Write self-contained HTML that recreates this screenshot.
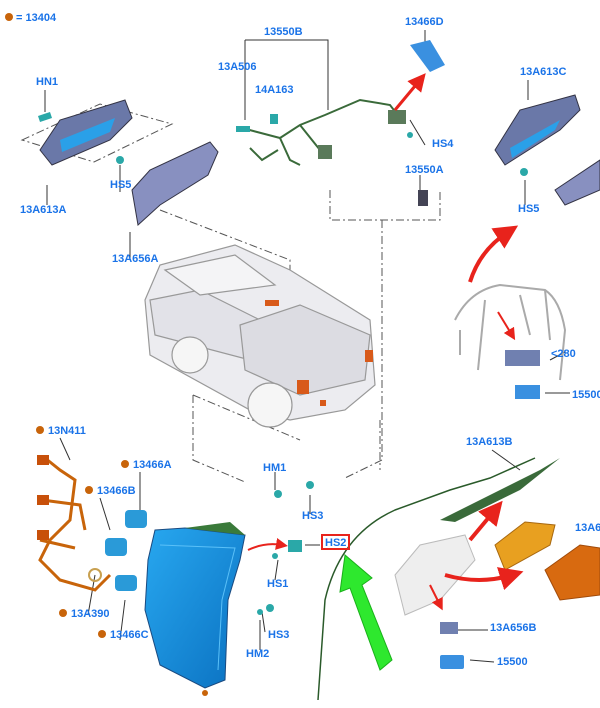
<!DOCTYPE html>
<html><head><meta charset="utf-8"><style>
body{margin:0;background:#fff;}
svg text{font-family:"Liberation Sans",sans-serif;font-weight:bold;font-size:11px;fill:#1a73e8;}
</style></head><body>
<svg width="600" height="703" viewBox="0 0 600 703" xmlns="http://www.w3.org/2000/svg">
<defs>
<marker id="ra" markerWidth="6" markerHeight="6" refX="3" refY="3" orient="auto"><path d="M0,0L6,3L0,6z" fill="#e8231c"/></marker>
<linearGradient id="bl" x1="0" x2="1" y1="0" y2="1"><stop offset="0" stop-color="#28a8f0"/><stop offset="1" stop-color="#0a70c0"/></linearGradient>
</defs>
<circle cx="9" cy="17" r="4" fill="#c8640a"/>
<text x="16" y="21">= 13404</text>

<g stroke="#555" stroke-width="1" stroke-dasharray="8,3,2,3" fill="none">
<path d="M22,140 L100,104 L172,124 L94,162 Z"/>
<path d="M160,210 L290,260 L290,300"/>
<path d="M330,190 L330,220 L440,220 L440,190"/>
<path d="M382,220 L382,460 L345,478"/>
<path d="M193,395 L193,460 L245,482"/>
<path d="M193,395 L300,440"/>
<path d="M380,420 L380,470"/>
</g>
<g stroke="#333" stroke-width="1" fill="none">
<path d="M245,40 L245,120 M245,40 L328,40 L328,110"/>
<path d="M45,90 L45,112 M120,192 L120,165 M47,205 L47,185 M130,258 L130,232"/>
<path d="M425,30 L425,45 M425,145 L410,120 M420,175 L420,195 M528,80 L528,100 M525,205 L525,180"/>
<path d="M60,438 L70,460 M140,472 L140,515 M100,498 L110,530 M88,615 L95,575 M120,640 L125,600"/>
<path d="M275,472 L275,490 M310,514 L310,495 M275,580 L278,560 M265,632 L262,612 M260,650 L260,620"/>
<path d="M492,450 L520,470 M320,545 L305,545 M488,630 L455,630 M494,662 L470,660 M565,352 L550,360 M570,393 L545,393"/>
</g>

<path d="M40,150 L60,120 L125,100 L132,118 L110,140 L52,165 Z" fill="#6a78a8" stroke="#334"/>
<path d="M60,140 L115,118 L110,132 L62,152 Z" fill="#2aa0e8"/>
<path d="M38,116 l12,-4 l2,6 l-12,4z" fill="#2aa8a8"/>
<circle cx="120" cy="160" r="4" fill="#2aa8a8"/>
<path d="M132,190 L150,170 L210,142 L218,152 L208,175 L160,205 L138,225 Z" fill="#8890c0" stroke="#334"/>
<path d="M242,128 L280,138 L300,125 L325,115 L360,100 L390,105 L400,118" stroke="#3a6a3a" stroke-width="2" fill="none"/>
<path d="M300,125 L320,150 L330,150 M250,148 L262,160 L278,150 M280,138 L290,160 L300,165" stroke="#3a6a3a" stroke-width="2" fill="none"/>
<rect x="236" y="126" width="14" height="6" fill="#2aa8a8"/>
<rect x="270" y="114" width="8" height="10" fill="#2aa8a8"/>
<rect x="318" y="145" width="14" height="14" fill="#5a7a5a"/>
<rect x="388" y="110" width="18" height="14" fill="#5a7a5a"/>
<path d="M410,45 L430,40 L445,65 L430,72 Z" fill="#3a90e0"/>
<path d="M395,110 L420,80" stroke="#e8231c" stroke-width="3" marker-end="url(#ra)"/>
<circle cx="410" cy="135" r="3" fill="#2aa8a8"/>
<rect x="418" y="190" width="10" height="16" fill="#445"/>
<path d="M495,150 L520,110 L575,95 L580,110 L560,130 L505,165 Z" fill="#6a78a8" stroke="#334"/>
<path d="M510,148 L560,120 L555,130 L512,158Z" fill="#2aa0e8"/>
<path d="M555,190 L600,160 L600,190 L565,205 Z" fill="#8890c0" stroke="#334"/>
<circle cx="524" cy="172" r="4" fill="#2aa8a8"/>
<path d="M470,282 Q480,250 508,232" stroke="#e8231c" stroke-width="4" fill="none" marker-end="url(#ra)"/>
<g stroke="#aaa" stroke-width="2" fill="none">
<path d="M455,320 Q470,290 500,285 L545,290 Q560,300 565,330 L560,380"/>
<path d="M460,330 L460,355 M485,300 L478,370 M520,295 L530,335 M545,290 L550,340"/>
</g>
<path d="M498,312 L512,335" stroke="#e8231c" stroke-width="2" marker-end="url(#ra)"/>
<rect x="505" y="350" width="35" height="16" fill="#7080b0"/>
<rect x="515" y="385" width="25" height="14" fill="#3a90e0"/>
<text x="551" y="357">&lt;280</text>
<text x="572" y="398">15500</text>

<!-- truck -->
<g stroke="#999" stroke-width="1.2" fill="#ececf0">
<path d="M145,300 L160,265 L235,245 L290,270 L370,320 L375,385 L345,410 L290,420 L250,410 L150,355 Z"/>
<path d="M150,300 L200,290 L260,320 L250,360 L155,335 Z" fill="#e2e2e8"/>
<path d="M240,325 L300,305 L370,335 L365,380 L300,395 L245,370 Z" fill="#dcdce2"/>
<path d="M165,270 L235,255 L275,285 L200,295 Z" fill="#f4f4f6"/>
<circle cx="270" cy="405" r="22" fill="#f6f6f6"/>
<circle cx="190" cy="355" r="18" fill="#f6f6f6"/>
</g>
<rect x="297" y="380" width="12" height="14" fill="#d85a1a"/>
<rect x="365" y="350" width="8" height="12" fill="#d85a1a"/>
<rect x="265" y="300" width="14" height="6" fill="#d85a1a"/>
<rect x="320" y="400" width="6" height="6" fill="#d85a1a"/>

<path d="M45,458 L60,470 L75,480 L70,520 L50,540 L40,560 L60,580 L95,590 L110,575 M42,500 L80,505 L85,530 M40,540 L75,548" stroke="#c8640a" stroke-width="3" fill="none"/>
<rect x="37" y="455" width="12" height="10" fill="#c8500a"/>
<rect x="37" y="495" width="12" height="10" fill="#c8500a"/>
<rect x="37" y="530" width="12" height="10" fill="#c8500a"/>
<circle cx="95" cy="575" r="6" fill="none" stroke="#c8a050" stroke-width="2"/>
<g fill="#2a9ad8">
<rect x="125" y="510" width="22" height="18" rx="4"/>
<rect x="105" y="538" width="22" height="18" rx="4"/>
<rect x="115" y="575" width="22" height="16" rx="4"/>
</g>
<path d="M155,530 L185,528 L245,535 L240,560 L228,600 L225,680 L205,688 L160,665 L145,610 L148,560 Z" fill="url(#bl)" stroke="#1a4a80"/>
<path d="M160,545 L235,548 L222,600 L218,670" stroke="#5ac0f8" fill="none"/>
<path d="M185,528 L230,522 L245,535" fill="#3a7a3a"/>
<circle cx="205" cy="693" r="3" fill="#c8640a"/>
<circle cx="278" cy="494" r="4" fill="#2aa8a8"/>
<circle cx="310" cy="485" r="4" fill="#2aa8a8"/>
<rect x="288" y="540" width="14" height="12" fill="#2aa8a8"/>
<circle cx="275" cy="556" r="3" fill="#2aa8a8"/>
<circle cx="260" cy="612" r="3" fill="#2aa8a8"/>
<circle cx="270" cy="608" r="4" fill="#2aa8a8"/>
<path d="M248,550 Q265,542 282,545" stroke="#e8231c" stroke-width="2" fill="none" marker-end="url(#ra)"/>

<path d="M318,700 L325,600 Q340,535 395,510 L450,490 L490,478 L535,458" stroke="#2a5a2a" stroke-width="1.5" fill="none"/>
<path d="M440,520 L540,470 L560,458 L520,490 L455,522 Z" fill="#3a6a3a"/>
<path d="M395,575 L420,545 L465,535 L475,560 L440,600 L405,615 Z" fill="#eee" stroke="#bbb"/>
<path d="M495,545 L525,522 L555,525 L550,545 L505,570 Z" fill="#e8a020" stroke="#a86810"/>
<path d="M545,570 L580,545 L600,548 L600,595 L560,600 Z" fill="#d86a10" stroke="#a04a0a"/>
<path d="M470,540 L495,510" stroke="#e8231c" stroke-width="4" marker-end="url(#ra)"/>
<path d="M445,575 Q480,585 512,575" stroke="#e8231c" stroke-width="4" fill="none" marker-end="url(#ra)"/>
<path d="M430,585 L440,605" stroke="#e8231c" stroke-width="2" marker-end="url(#ra)"/>
<rect x="440" y="622" width="18" height="12" fill="#7080b0"/>
<rect x="440" y="655" width="24" height="14" rx="2" fill="#3a90e0"/>
<path d="M380,670 L392,660 L362,585 L372,578 L345,555 L340,592 L350,588 Z" fill="#2ee82e" stroke="#1ab01a"/>

<text x="264" y="35">13550B</text>
<text x="405" y="25">13466D</text>
<text x="218" y="70">13A506</text>
<text x="255" y="93">14A163</text>
<text x="36" y="85">HN1</text>
<text x="520" y="75">13A613C</text>
<text x="432" y="147">HS4</text>
<text x="405" y="173">13550A</text>
<text x="110" y="188">HS5</text>
<text x="518" y="212">HS5</text>
<text x="20" y="213">13A613A</text>
<text x="112" y="262">13A656A</text>
<circle cx="40" cy="430" r="4" fill="#c8640a"/><text x="48" y="434">13N411</text>
<circle cx="125" cy="464" r="4" fill="#c8640a"/><text x="133" y="468">13466A</text>
<text x="263" y="471">HM1</text>
<text x="466" y="445">13A613B</text>
<circle cx="89" cy="490" r="4" fill="#c8640a"/><text x="97" y="494">13466B</text>
<text x="302" y="519">HS3</text>
<text x="575" y="531">13A6</text>
<rect x="322" y="535" width="27" height="14" fill="none" stroke="#e8231c" stroke-width="2"/>
<text x="325" y="546">HS2</text>
<text x="267" y="587">HS1</text>
<circle cx="63" cy="613" r="4" fill="#c8640a"/><text x="71" y="617">13A390</text>
<circle cx="102" cy="634" r="4" fill="#c8640a"/><text x="110" y="638">13466C</text>
<text x="268" y="638">HS3</text>
<text x="490" y="631">13A656B</text>
<text x="246" y="657">HM2</text>
<text x="497" y="665">15500</text>
</svg>
</body></html>
